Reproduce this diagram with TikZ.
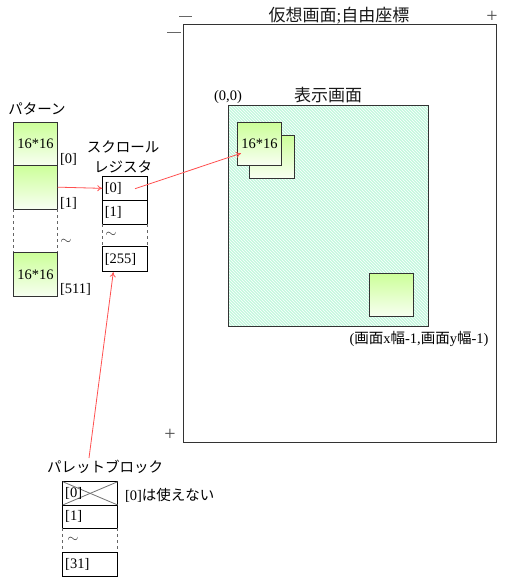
\documentclass[tikz,border=0pt]{standalone}
\usepackage{fontspec}
\setmainfont{Liberation Serif}
\newfontfamily\jp{Noto Sans CJK JP}
\usetikzlibrary{patterns,calc,arrows.meta}
\newcommand\jpt[1]{{\jp #1}}
\definecolor{frame}{HTML}{333333}
\definecolor{mint}{RGB}{196,248,222}
\definecolor{sprtop}{RGB}{204,255,153}
\definecolor{sprbot}{RGB}{248,255,242}
\definecolor{arr}{RGB}{255,80,80}
\begin{document}
\begin{tikzpicture}[x=1pt,y=-1pt,
  every node/.style={inner sep=0pt,outer sep=0pt},
  box/.style={anchor=north west,draw=frame,line width=1pt},
  cell/.style={anchor=north west,draw=black,line width=1pt},
  gapcell/.style={anchor=north west},
  spr/.style={anchor=north west,draw=frame,line width=1pt,top color=sprtop,bottom color=sprbot},
  dashline/.style={draw=black!60,dashed,line width=0.7pt},
  txt/.style={font=\fontsize{14.5}{16}\selectfont,text=black},
  big/.style={font=\fontsize{17}{19}\selectfont,text=black!90},
  plusmark/.style={font=\fontsize{20}{22}\selectfont,text=black!70},
  redarrow/.style={draw=arr,line width=0.8pt,-{To[length=5pt,width=6pt]}},
  dashmark/.style={draw=black!60,line width=1.3pt},
  tilde/.style={font=\fontsize{14}{16}\selectfont,text=black!80}
]
\useasboundingbox (0,0) rectangle (512,578);
\fill[white] (0,0) rectangle (512,578);

% virtual screen
\node[box,minimum width=313.4pt,minimum height=417.3pt] (virt) at (183.3,25) {};
\node[big] (vtitle) at (339,16) {\jpt{仮想画面};\jpt{自由座標}};
\coordinate (m1a) at (179.3,16.7); \coordinate (m1b) at (192.3,16.7);
\coordinate (m2a) at (167.3,32.7); \coordinate (m2b) at (180.7,32.7);
\draw[dashmark] (m1a) -- (m1b);
\draw[dashmark] (m2a) -- (m2b);
\node[plusmark] (plus1) at (492,17) {+};
\node[plusmark] (plus2) at (170,435) {+};

% display screen
\node[box,minimum width=200pt,minimum height=220.7pt,preaction={fill=mint},
  pattern=north west lines,pattern color=white] (disp) at (228.3,105.3) {};
\node[big] (dtitle) at (328,95) {\jpt{表示画面}};
\node[txt] (origin) at (228,97) {(0,0)};
\node[txt] (corner) at (419,339) {(\jpt{画面}x\jpt{幅}-1,\jpt{画面}y\jpt{幅}-1)};

% sprites on display
\node[spr,minimum width=45pt,minimum height=43pt] (s1b) at (249.3,135.3) {};
\node[spr,minimum width=44.4pt,minimum height=43pt] (s1) at (237.3,122.3) {};
\node[txt] (s1t) at (s1) {16*16};
\node[spr,minimum width=44.4pt,minimum height=43.4pt] (s2) at (369.3,273.3) {};

% pattern column
\node[txt] (ptitle) at (37,109) {\jpt{パターン}};
\node[spr,minimum width=44.4pt,minimum height=43pt] (p0) at (13.3,122.3) {};
\node[txt] at (p0) {16*16};
\node[spr,minimum width=44.4pt,minimum height=43.7pt] (p1) at (13.3,165.3) {};
\node[gapcell,minimum width=44.4pt,minimum height=43.7pt] (pg) at (13.3,209) {};
\draw[dashline] (pg.north west) -- (pg.south west);
\draw[dashline] (pg.north east) -- (pg.south east);
\node[spr,minimum width=44.4pt,minimum height=44pt] (p511) at (13.3,252.7) {};
\node[txt] at (p511) {16*16};
\node[txt,anchor=west] (pl0) at (60,159) {[0]};
\node[txt,anchor=west] (pl1) at (60,203) {[1]};
\node[tilde] (pltil) at (66,242) {$\sim$};
\node[txt,anchor=west] (pl511) at (60,289) {[511]};

% scroll register
\node[txt] (rtitle1) at (123,147) {\jpt{スクロール}};
\node[txt] (rtitle2) at (123,167) {\jpt{レジスタ}};
\node[cell,minimum width=45pt,minimum height=23.3pt] (r0) at (102.3,176.7) {};
\node[cell,minimum width=45pt,minimum height=24.3pt] (r1) at (102.3,200) {};
\node[gapcell,minimum width=45pt,minimum height=22.4pt] (rg) at (102.3,224.3) {};
\draw[dashline] (rg.north west) -- (rg.south west);
\draw[dashline] (rg.north east) -- (rg.south east);
\node[cell,minimum width=45pt,minimum height=25pt] (r255) at (102.3,246.7) {};
\node[txt,anchor=west] at ($(r0.west)+(2.5,0)$) {[0]};
\node[txt,anchor=west] at ($(r1.west)+(2.5,0)$) {[1]};
\node[tilde] at (111,234.5) {$\sim$};
\node[txt,anchor=west] at ($(r255.west)+(2.5,0)$) {[255]};

% palette block
\node[txt] (btitle) at (105,467) {\jpt{パレットブロック}};
\node[cell,minimum width=55pt,minimum height=23.3pt] (b0) at (62.7,481.7) {};
\node[cell,minimum width=55pt,minimum height=23.3pt] (b1) at (62.7,505) {};
\node[gapcell,minimum width=55pt,minimum height=24pt] (bg) at (62.7,528.3) {};
\draw[dashline] (bg.north west) -- (bg.south west);
\draw[dashline] (bg.north east) -- (bg.south east);
\node[cell,minimum width=55pt,minimum height=24.4pt] (b31) at (62.7,552.3) {};
\draw[black!55,line width=0.8pt] (b0.north west) -- (b0.south east);
\draw[black!55,line width=0.8pt] (b0.south west) -- (b0.north east);
\node[txt,anchor=west] at ($(b0.west)+(2.5,0)$) {[0]};
\node[txt,anchor=west] at ($(b1.west)+(2.5,0)$) {[1]};
\node[tilde] at (73,539.5) {$\sim$};
\node[txt,anchor=west] at ($(b31.west)+(2.5,0)$) {[31]};
\node[txt,anchor=west] (bnote) at (125,495) {[0]\jpt{は使えない}};

% arrows
\coordinate (r0in) at (135,188.7);
\coordinate (s1tip) at ($(s1.west)+(3.7,9.5)$);
\coordinate (bstart) at (89,458);
\coordinate (r255tip) at ($(r255.south)+(-11.5,0.5)$);
\draw[redarrow] (p1.east) -- (r0.west);
\draw[redarrow] (r0in) -- (s1tip);
\draw[redarrow] (bstart) -- (r255tip);
\end{tikzpicture}
\end{document}
